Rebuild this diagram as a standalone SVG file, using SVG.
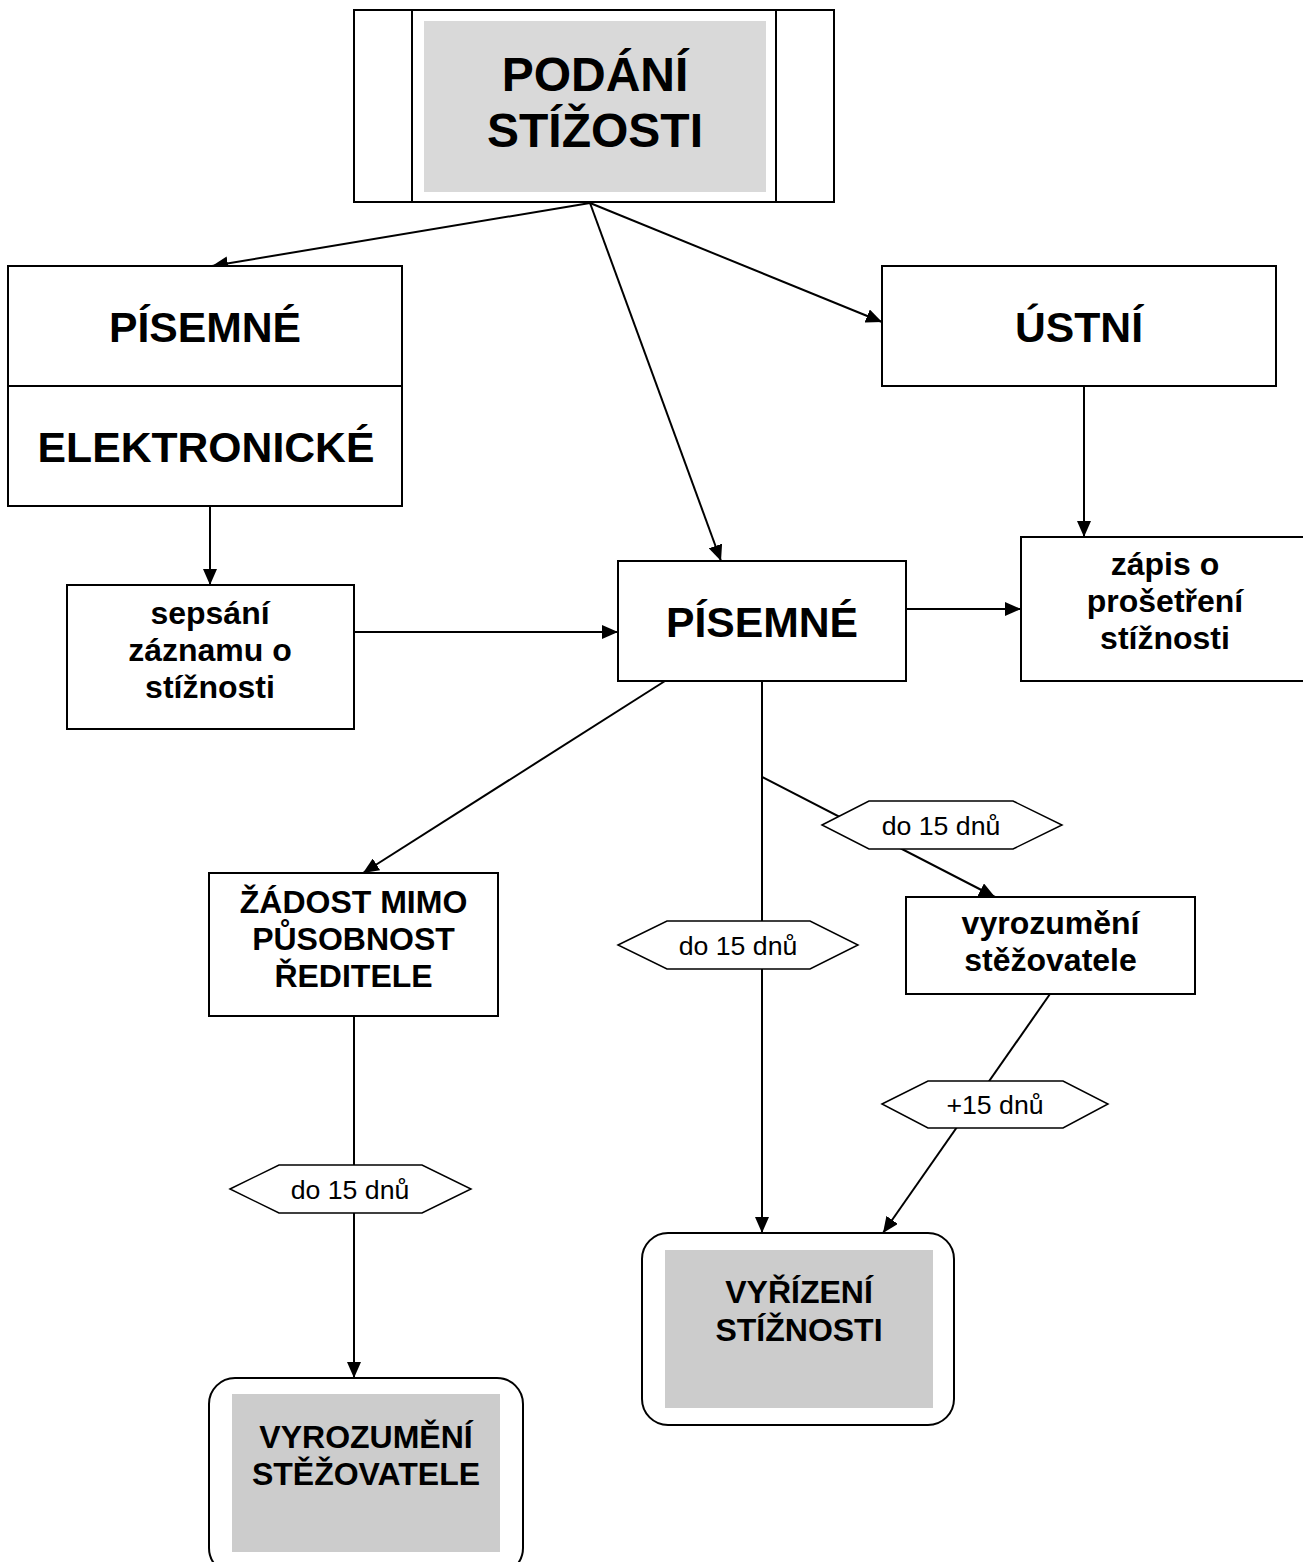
<svg xmlns="http://www.w3.org/2000/svg" width="1303" height="1562" viewBox="0 0 1303 1562">
<defs>
<marker id="ah" markerUnits="userSpaceOnUse" markerWidth="16" markerHeight="14" refX="16" refY="7" orient="auto">
<path d="M0,0 L16,7 L0,14 Z" fill="#000"/>
</marker>
<style>
.box{fill:#fff;stroke:#000;stroke-width:2}
.ln{fill:none;stroke:#000;stroke-width:2}
.hex{fill:#fff;stroke:#000;stroke-width:1.5}
.t{font-family:"Liberation Sans",Arial,sans-serif;font-weight:bold;text-anchor:middle;fill:#000}
.t48{font-size:48px}
.t43{font-size:42.7px}
.t32{font-size:32px}
.r{font-family:"Liberation Sans",Arial,sans-serif;font-size:26.7px;text-anchor:middle;fill:#000}
</style>
</defs>
<rect width="1303" height="1562" fill="#fff"/>

<g id="connectors">
<line class="ln" x1="590" y1="203" x2="212" y2="266" marker-end="url(#ah)"/>
<line class="ln" x1="590" y1="203" x2="721" y2="561" marker-end="url(#ah)"/>
<line class="ln" x1="590" y1="203" x2="882" y2="322" marker-end="url(#ah)"/>
<line class="ln" x1="1084" y1="386" x2="1084" y2="537" marker-end="url(#ah)"/>
<line class="ln" x1="210" y1="506" x2="210" y2="585" marker-end="url(#ah)"/>
<line class="ln" x1="354" y1="632" x2="618" y2="632" marker-end="url(#ah)"/>
<line class="ln" x1="906" y1="609" x2="1021" y2="609" marker-end="url(#ah)"/>
<line class="ln" x1="665" y1="681" x2="363" y2="873" marker-end="url(#ah)"/>
<line class="ln" x1="762" y1="681" x2="762" y2="1233" marker-end="url(#ah)"/>
<line class="ln" x1="762" y1="777" x2="995" y2="897" marker-end="url(#ah)"/>
<line class="ln" x1="1050" y1="994" x2="883" y2="1233" marker-end="url(#ah)"/>
<line class="ln" x1="354" y1="1016" x2="354" y2="1378" marker-end="url(#ah)"/>
</g>

<g id="label-hex1">
<polygon class="hex" points="822,825 869,801 1013,801 1062,825 1013,849 869,849"/>
<text class="r" x="941" y="835">do 15 dnů</text>
</g>
<g id="label-hex2">
<polygon class="hex" points="618,945 667,921 810,921 858,945 810,969 667,969"/>
<text class="r" x="738" y="955">do 15 dnů</text>
</g>
<g id="label-hex3">
<polygon class="hex" points="882,1104 928,1081 1063,1081 1108,1104 1063,1128 928,1128"/>
<text class="r" x="995" y="1114">+15 dnů</text>
</g>
<g id="label-hex4">
<polygon class="hex" points="230,1189 279,1165 422,1165 471,1189 422,1213 279,1213"/>
<text class="r" x="350" y="1199">do 15 dnů</text>
</g>

<g id="podani">
<rect class="box" x="354" y="10" width="480" height="192"/>
<line class="ln" x1="412" y1="10" x2="412" y2="202"/>
<line class="ln" x1="776" y1="10" x2="776" y2="202"/>
<rect x="424" y="21" width="342" height="171" fill="#d9d9d9"/>
<text class="t t48" x="595" y="91">PODÁNÍ</text>
<text class="t t48" x="595" y="147">STÍŽOSTI</text>
</g>

<g id="pisemne-elektronicke">
<rect class="box" x="8" y="266" width="394" height="240"/>
<line class="ln" x1="8" y1="386" x2="402" y2="386"/>
<text class="t t43" x="205" y="342">PÍSEMNÉ</text>
<text class="t t43" x="206" y="462">ELEKTRONICKÉ</text>
</g>

<g id="ustni">
<rect class="box" x="882" y="266" width="394" height="120"/>
<text class="t t43" x="1079" y="342">ÚSTNÍ</text>
</g>

<g id="sepsani">
<rect class="box" x="67" y="585" width="287" height="144"/>
<text class="t t32" x="210" y="624">sepsání</text>
<text class="t t32" x="210" y="661">záznamu o</text>
<text class="t t32" x="210" y="698">stížnosti</text>
</g>

<g id="pisemne">
<rect class="box" x="618" y="561" width="288" height="120"/>
<text class="t t43" x="762" y="637">PÍSEMNÉ</text>
</g>

<g id="zapis">
<rect class="box" x="1021" y="537" width="290" height="144"/>
<text class="t t32" x="1165" y="575">zápis o</text>
<text class="t t32" x="1165" y="612">prošetření</text>
<text class="t t32" x="1165" y="649">stížnosti</text>
</g>

<g id="zadost">
<rect class="box" x="209" y="873" width="289" height="143"/>
<text class="t t32" x="353.5" y="913">ŽÁDOST MIMO</text>
<text class="t t32" x="353.5" y="950">PŮSOBNOST</text>
<text class="t t32" x="353.5" y="987">ŘEDITELE</text>
</g>

<g id="vyrozumeni">
<rect class="box" x="906" y="897" width="289" height="97"/>
<text class="t t32" x="1050.5" y="934">vyrozumění</text>
<text class="t t32" x="1050.5" y="971">stěžovatele</text>
</g>

<g id="vyrizeni">
<rect class="box" x="642" y="1233" width="312" height="192" rx="26" ry="26"/>
<rect x="665" y="1250" width="268" height="158" fill="#cccccc"/>
<text class="t t32" x="799" y="1303">VYŘÍZENÍ</text>
<text class="t t32" x="799" y="1341">STÍŽNOSTI</text>
</g>

<g id="vyrozumeni-stezovatele">
<rect class="box" x="209" y="1378" width="314" height="196" rx="26" ry="26"/>
<rect x="232" y="1394" width="268" height="158" fill="#cccccc"/>
<text class="t t32" x="366" y="1448">VYROZUMĚNÍ</text>
<text class="t t32" x="366" y="1485">STĚŽOVATELE</text>
</g>
</svg>
